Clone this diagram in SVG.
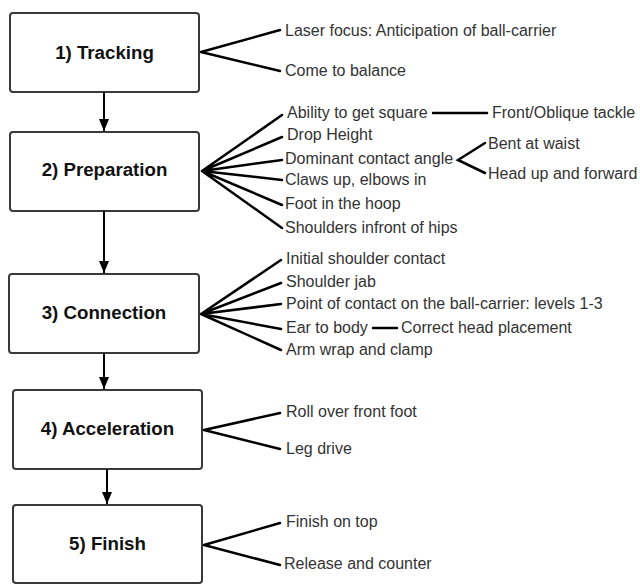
<svg xmlns="http://www.w3.org/2000/svg" width="640" height="584" viewBox="0 0 640 584">
<defs>
<style>
.box{fill:#fff;stroke:#3a3a3a;stroke-width:2}
.title{font-family:"Liberation Sans",Arial,sans-serif;font-size:18.7px;font-weight:bold;fill:#111;text-anchor:middle}
.lbl{font-family:"Liberation Sans",Arial,sans-serif;font-size:16px;fill:#333}
.br{stroke:#000;stroke-width:2.5;fill:none;stroke-linecap:round}
.ar{stroke:#000;stroke-width:2;fill:none}
</style>
<marker id="ah" markerUnits="userSpaceOnUse" markerWidth="12" markerHeight="12" viewBox="0 0 12 12" refX="12" refY="6" orient="auto">
<path d="M0,1 L12,6 L0,11 Z" fill="#000"/>
</marker>
</defs>
<rect width="640" height="584" fill="#fff"/>
<g id="node1">
<rect class="box" x="10" y="13" width="189" height="79" rx="3"/>
<text class="title" x="104.5" y="58.7">1) Tracking</text>
</g>
<g id="node2">
<rect class="box" x="10" y="132" width="189" height="79" rx="3"/>
<text class="title" x="104.5" y="175.7">2) Preparation</text>
</g>
<g id="node3">
<rect class="box" x="9" y="274" width="190" height="79" rx="3"/>
<text class="title" x="104" y="318.7">3) Connection</text>
</g>
<g id="node4">
<rect class="box" x="13" y="390" width="189" height="79" rx="3"/>
<text class="title" x="107.5" y="434.7">4) Acceleration</text>
</g>
<g id="node5">
<rect class="box" x="13" y="505" width="189" height="78" rx="3"/>
<text class="title" x="107.5" y="549.7">5) Finish</text>
</g>
<g id="labels">
<text class="lbl" x="285" y="35.5">Laser focus: Anticipation of ball-carrier</text>
<text class="lbl" x="285" y="75.5">Come to balance</text>
<text class="lbl" x="287" y="117.5">Ability to get square</text>
<text class="lbl" x="492" y="117.5">Front/Oblique tackle</text>
<text class="lbl" x="287" y="139.5">Drop Height</text>
<text class="lbl" x="285" y="163.5">Dominant contact angle</text>
<text class="lbl" x="488" y="148.5">Bent at waist</text>
<text class="lbl" x="488" y="178.5">Head up and forward</text>
<text class="lbl" x="285" y="184.5">Claws up, elbows in</text>
<text class="lbl" x="285" y="208.5">Foot in the hoop</text>
<text class="lbl" x="285" y="232.5">Shoulders infront of hips</text>
<text class="lbl" x="286" y="263.5">Initial shoulder contact</text>
<text class="lbl" x="286" y="286.5">Shoulder jab</text>
<text class="lbl" x="286" y="308.5">Point of contact on the ball-carrier: levels 1-3</text>
<text class="lbl" x="286" y="332.5">Ear to body</text>
<text class="lbl" x="401" y="332.5">Correct head placement</text>
<text class="lbl" x="286" y="354.5">Arm wrap and clamp</text>
<text class="lbl" x="286" y="416.5">Roll over front foot</text>
<text class="lbl" x="286" y="453.5">Leg drive</text>
<text class="lbl" x="286" y="526.5">Finish on top</text>
<text class="lbl" x="284" y="568.5">Release and counter</text>
</g>
<g id="connectors">
<line class="ar" x1="104" y1="92" x2="104" y2="131" marker-end="url(#ah)"/>
<line class="ar" x1="104" y1="211" x2="104" y2="273" marker-end="url(#ah)"/>
<line class="ar" x1="104" y1="353" x2="104" y2="389" marker-end="url(#ah)"/>
<line class="ar" x1="107" y1="469" x2="107" y2="504" marker-end="url(#ah)"/>
<path class="br" d="M201,52 L280,30 M201,52 L280,71"/>
<path class="br" d="M202,171 L282,115 M202,171 L282,137 M202,171 L282,160 M202,171 L282,180 M202,171 L282,205 M202,171 L282,228"/>
<path class="br" d="M433,113 L487,113"/>
<path class="br" d="M485,143 L458,160 L485,173"/>
<path class="br" d="M201,314 L281,260 M201,314 L281,283 M201,314 L281,304 M201,314 L281,329 M201,314 L281,350"/>
<path class="br" d="M373,328 L397,328"/>
<path class="br" d="M204,430 L280,413 M204,430 L280,449"/>
<path class="br" d="M204,545 L280,523 M204,545 L280,565"/>
</g>
</svg>
